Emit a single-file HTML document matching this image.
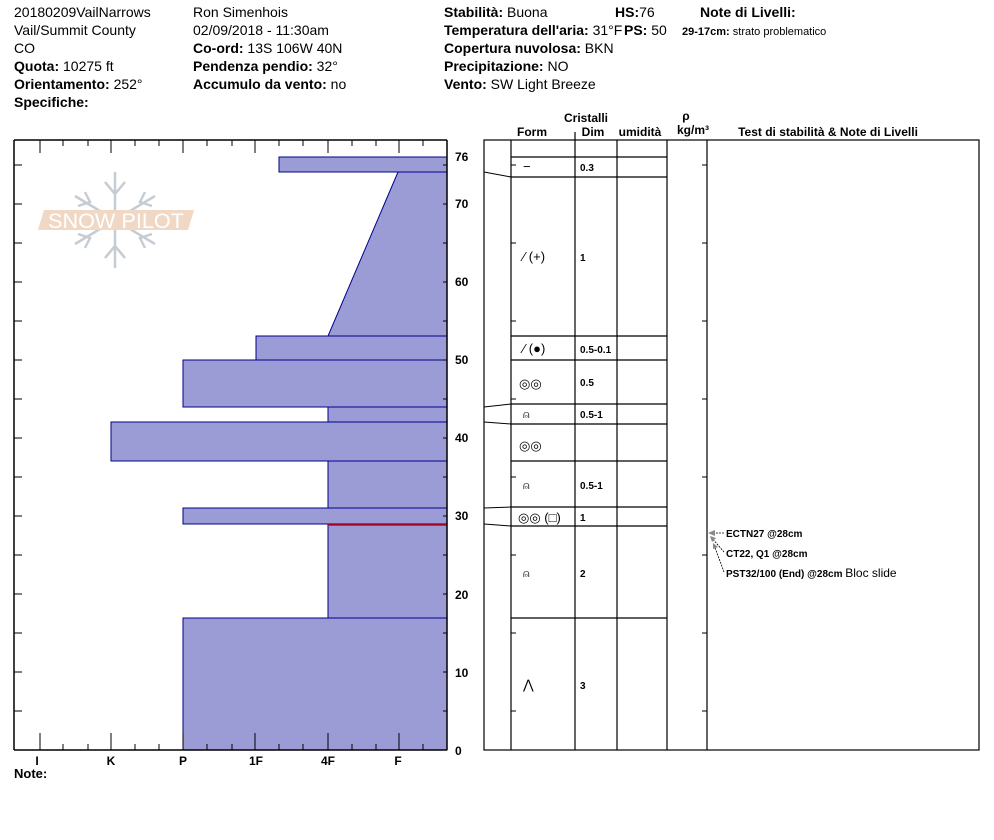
<!DOCTYPE html>
<html><head><meta charset="utf-8"><style>
body{margin:0;background:#fff;}
svg{display:block;font-family:"Liberation Sans",Arial,sans-serif;}
.h{font-size:14px;fill:#000}
.b{font-weight:bold}
</style></head><body>
<svg width="994" height="840" viewBox="0 0 994 840" xmlns="http://www.w3.org/2000/svg">
<rect width="994" height="840" fill="#fff"/>
<g class="h">
<text x="14" y="17">20180209VailNarrows</text>
<text x="14" y="35">Vail/Summit County</text>
<text x="14" y="53">CO</text>
<text x="14" y="71"><tspan class="b">Quota:</tspan> 10275 ft</text>
<text x="14" y="89"><tspan class="b">Orientamento:</tspan> 252°</text>
<text x="14" y="107" class="b">Specifiche:</text>
<text x="193" y="17">Ron Simenhois</text>
<text x="193" y="35">02/09/2018 - 11:30am</text>
<text x="193" y="53"><tspan class="b">Co-ord:</tspan> 13S 106W 40N</text>
<text x="193" y="71"><tspan class="b">Pendenza pendio:</tspan> 32°</text>
<text x="193" y="89"><tspan class="b">Accumulo da vento:</tspan> no</text>
<text x="444" y="17"><tspan class="b">Stabilità:</tspan> Buona</text>
<text x="444" y="35"><tspan class="b">Temperatura dell'aria:</tspan> 31°F</text>
<text x="444" y="53"><tspan class="b">Copertura nuvolosa:</tspan> BKN</text>
<text x="444" y="71"><tspan class="b">Precipitazione:</tspan> NO</text>
<text x="444" y="89"><tspan class="b">Vento:</tspan>  SW Light Breeze</text>
<text x="615" y="17"><tspan class="b">HS:</tspan>76</text>
<text x="624" y="35"><tspan class="b">PS:</tspan> 50</text>
<text x="700" y="17" class="b">Note di Livelli:</text>
</g>
<text x="682" y="35" font-size="11"><tspan font-weight="bold">29-17cm:</tspan> strato problematico</text>

<!-- logo -->
<g>
<g stroke="#c5ccd3" stroke-width="2.5" fill="none">
<line x1="115" y1="172" x2="115" y2="268"/>
<line x1="75" y1="196" x2="155" y2="244"/>
<line x1="75" y1="244" x2="155" y2="196"/>
<path d="M105 182 L115 194 L125 182 M105 258 L115 246 L125 258"/>
<path d="M85 192 L90 202 L78 206 M145 192 L140 202 L152 206 M85 248 L90 238 L78 234 M145 248 L140 238 L152 234"/>
</g>
<polygon points="44,210 194,210 188,230 38,230" fill="#f0d8c4"/>
<text x="116" y="228" text-anchor="middle" font-size="21" fill="#fff" textLength="136" lengthAdjust="spacingAndGlyphs">SNOW PILOT</text>
</g>

<g fill="#9b9bd6" stroke="#00008b" stroke-width="1">
<rect x="279" y="157" width="168" height="15"/>
<polygon points="398,172 447,172 447,336 328,336"/>
<rect x="256" y="336" width="191" height="24"/>
<rect x="183" y="360" width="264" height="47"/>
<rect x="328" y="407" width="119" height="15"/>
<rect x="111" y="422" width="336" height="39"/>
<rect x="328" y="461" width="119" height="47"/>
<rect x="183" y="508" width="264" height="16"/>
<rect x="328" y="524" width="119" height="94"/>
<rect x="183" y="618" width="264" height="132"/>
</g>
<line x1="328" y1="525" x2="447" y2="525" stroke="#e00000" stroke-width="1.5"/>

<g stroke="#000" stroke-width="1.5" fill="none">
<line x1="14" y1="140" x2="447" y2="140"/>
<line x1="14" y1="140" x2="14" y2="750"/>
<line x1="14" y1="750" x2="447" y2="750"/>
<line x1="447" y1="140" x2="447" y2="750"/>
</g>
<g stroke="#000" stroke-width="1">
<path d="M40 140v13 M63 140v6 M88 140v6 M111 140v13 M135 140v6 M159 140v6 M183 140v13 M207 140v6 M232 140v6 M255 140v13 M279 140v6 M303 140v6 M328 140v13 M352 140v6 M376 140v6 M399 140v13 M423 140v6"/>
<path d="M40 750v-17 M63 750v-6 M88 750v-6 M111 750v-17 M135 750v-6 M159 750v-6 M183 750v-17 M207 750v-6 M232 750v-6 M255 750v-17 M279 750v-6 M303 750v-6 M328 750v-17 M352 750v-6 M376 750v-6 M399 750v-17 M423 750v-6"/>
<path d="M14 711h8 M14 672h8 M14 633h8 M14 594h8 M14 555h8 M14 516h8 M14 477h8 M14 438h8 M14 399h8 M14 360h8 M14 321h8 M14 282h8 M14 243h8 M14 204h8 M14 165h8"/>
<path d="M447 711h-4 M447 672h-4 M447 633h-4 M447 594h-4 M447 555h-4 M447 516h-4 M447 477h-4 M447 438h-4 M447 399h-4 M447 360h-4 M447 321h-4 M447 282h-4 M447 243h-4 M447 204h-4 M447 165h-4"/>
</g>
<g font-size="12" font-weight="bold">
<text x="455" y="161">76</text>
<text x="455" y="208">70</text>
<text x="455" y="286">60</text>
<text x="455" y="364">50</text>
<text x="455" y="442">40</text>
<text x="455" y="520">30</text>
<text x="455" y="599">20</text>
<text x="455" y="677">10</text>
<text x="455" y="755">0</text>
</g>
<g font-size="12" font-weight="bold" text-anchor="middle">
<text x="37" y="765">I</text>
<text x="111" y="765">K</text>
<text x="183" y="765">P</text>
<text x="256" y="765">1F</text>
<text x="328" y="765">4F</text>
<text x="398" y="765">F</text>
</g>
<text x="14" y="778" font-size="13" font-weight="bold">Note:</text>

<g font-size="12" font-weight="bold" text-anchor="middle">
<text x="586" y="122">Cristalli</text>
<text x="532" y="136">Form</text>
<text x="593" y="136">Dim</text>
<text x="640" y="136">umidità</text>
<text x="686" y="120">ρ</text>
<text x="693" y="134">kg/m³</text>
<text x="828" y="136">Test di stabilità &amp; Note di Livelli</text>
</g>
<g stroke="#000" stroke-width="1.2" fill="none">
<rect x="484" y="140" width="495" height="610"/>
<line x1="511" y1="140" x2="511" y2="750"/>
<line x1="575" y1="132" x2="575" y2="750"/>
<line x1="617" y1="140" x2="617" y2="750"/>
<line x1="667" y1="140" x2="667" y2="750"/>
<line x1="707" y1="140" x2="707" y2="750"/>
<path d="M511 157H667 M511 177H667 M511 336H667 M511 360H667 M511 404H667 M511 424H667 M511 461H667 M511 507H667 M511 526H667 M511 618H667"/>
<path d="M484 172L511 177 M484 407L511 404 M484 422L511 424 M484 508L511 507 M484 524L511 526" stroke-width="1"/>
<path d="M511 165h5 M511 243h5 M511 321h5 M511 399h5 M511 477h5 M511 555h5 M511 633h5 M511 711h5" stroke-width="1"/>
<path d="M707 165h-5 M707 243h-5 M707 321h-5 M707 399h-5 M707 477h-5 M707 555h-5 M707 633h-5 M707 711h-5" stroke-width="1"/>
</g>
<g font-size="13" fill="#000">
<text x="523" y="171">−</text>
<text x="523" y="261">⁄ (+)</text>
<text x="523" y="353">⁄ (●)</text>
<text x="519" y="388">◎◎</text>
<text x="523" y="418" font-size="11">⍝</text>
<text x="519" y="450">◎◎</text>
<text x="523" y="489" font-size="11">⍝</text>
<text x="518" y="522">◎◎ (□)</text>
<text x="523" y="577" font-size="11">⍝</text>
<text x="523" y="689">⋀</text>
</g>
<g font-size="10" font-weight="bold">
<text x="580" y="171">0.3</text>
<text x="580" y="261">1</text>
<text x="580" y="353">0.5-0.1</text>
<text x="580" y="386">0.5</text>
<text x="580" y="418">0.5-1</text>
<text x="580" y="489">0.5-1</text>
<text x="580" y="521">1</text>
<text x="580" y="577">2</text>
<text x="580" y="689">3</text>
</g>
<g stroke="#000" stroke-width="0.8" stroke-dasharray="2,1" fill="none">
<line x1="710" y1="533" x2="724" y2="533"/>
<line x1="711" y1="537" x2="724" y2="552"/>
<line x1="714" y1="545" x2="724" y2="572"/>
</g>
<g fill="#888">
<polygon points="708,533 715,530 715,536"/>
<polygon points="710,536 716,538 712,542"/>
<polygon points="713,543 718,547 713,549"/>
</g>
<g font-size="10" font-weight="bold">
<text x="726" y="537">ECTN27 @28cm</text>
<text x="726" y="557">CT22, Q1 @28cm</text>
<text x="726" y="577">PST32/100 (End) @28cm <tspan font-weight="normal" font-size="12">Bloc slide</tspan></text>
</g>
</svg>
</body></html>
